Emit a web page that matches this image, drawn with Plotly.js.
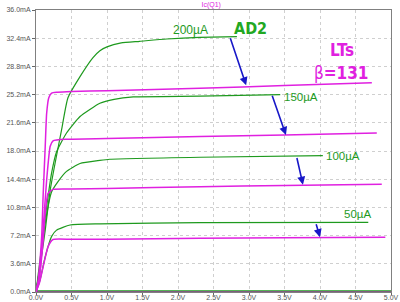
<!DOCTYPE html>
<html><head><meta charset="utf-8">
<script src="https://cdn.plot.ly/plotly-3.0.1.min.js"></script>
<style>html,body{margin:0;padding:0;background:#fff}#c{width:400px;height:302px}</style>
</head><body><div id="c"></div>
<script>
// Measured (AD2) curves: Vce (V) vs Ic (mA)
const ad2_200_v = [0, 0.056, 0.13, 0.2, 0.27, 0.36, 0.45, 0.62, 0.8, 0.9, 1.0, 1.2, 1.46, 1.84, 2.3, 2.83];
const ad2_200_i = [0, 3.2, 7.9, 13.0, 16.5, 20.7, 24.8, 27.5, 29.9, 30.8, 31.3, 31.8, 32.0, 32.3, 32.5, 32.6];
const ad2_150_v = [0, 0.08, 0.15, 0.22, 0.29, 0.43, 0.62, 0.9, 1.1, 1.37, 2.31, 3.44];
const ad2_150_i = [0, 5.8, 10.9, 15.2, 17.9, 20.3, 22.4, 24.1, 24.6, 24.9, 25.0, 25.2];
const ad2_100_v = [0, 0.056, 0.13, 0.22, 0.31, 0.43, 0.62, 0.9, 1.04, 2.31, 4.04];
const ad2_100_i = [0, 3.2, 8.8, 12.8, 14.1, 15.4, 16.4, 16.8, 16.95, 17.2, 17.4];
const ad2_50_v = [0, 0.056, 0.13, 0.22, 0.29, 0.48, 0.9, 2.31, 4.68];
const ad2_50_i = [0, 1.5, 4.5, 7.1, 7.9, 8.55, 8.7, 8.85, 8.9];
const ad2_0_v = [0, 5];
const ad2_0_i = [0.15, 0.15];
// Simulated (LTspice) curves
const lts_200_v = [0, 0.03, 0.08, 0.1, 0.13, 0.15, 0.18, 0.22, 0.3, 0.5, 1.0, 2.31, 3.5, 4.73];
const lts_200_i = [0, 1.5, 7.1, 12.2, 18.6, 22.8, 24.8, 25.4, 25.5, 25.6, 25.7, 26.0, 26.35, 26.7];
const lts_150_v = [0, 0.05, 0.1, 0.15, 0.2, 0.24, 0.43, 1.0, 2.31, 3.5, 4.8];
const lts_150_i = [0, 2, 8, 14.3, 18.6, 19.3, 19.5, 19.6, 19.85, 20.05, 20.3];
const lts_100_v = [0, 0.05, 0.1, 0.13, 0.17, 0.24, 0.5, 1, 2.31, 3.5, 4.87];
const lts_100_i = [0, 2, 6.5, 10.1, 12.6, 13.1, 13.15, 13.2, 13.45, 13.6, 13.75];
const lts_50_v = [0, 0.05, 0.1, 0.17, 0.24, 0.5, 1, 2.31, 3.5, 4.92];
const lts_50_i = [0, 1.2, 3.2, 5.8, 6.7, 6.72, 6.75, 6.85, 6.92, 7.0];
const lts_0_v = [0, 5];
const lts_0_i = [0.02, 0.02];
// Tick labels
const xTickVals = [0, 0.5, 1, 1.5, 2, 2.5, 3, 3.5, 4, 4.5, 5];
const xTickText = ["0.0V","0.5V","1.0V","1.5V","2.0V","2.5V","3.0V","3.5V","4.0V","4.5V","5.0V"];
const yTickVals = [0, 3.6, 7.2, 10.8, 14.4, 18, 21.6, 25.2, 28.8, 32.4, 36];
const yTickText = ["0.0mA","3.6mA","7.2mA","10.8mA","14.4mA","18.0mA","21.6mA","25.2mA","28.8mA","32.4mA","36.0mA"];
// Base current labels
const ibLabels = ["200\u00b5A", "150\u00b5A", "100\u00b5A", "50\u00b5A"];
const ibLabelX = [2.18, 3.73, 4.33, 4.53];
const ibLabelY = [33.5, 24.9, 17.4, 10.0];
// Arrows (from AD2 curve end to LTspice curve)
const arrTailX = [2.73, 3.32, 3.67, 3.94];
const arrTailY = [32.6, 25.25, 17.3, 8.85];
const arrHeadX = [2.96, 3.52, 3.76, 4.0];
const arrHeadY = [26.4, 20.05, 13.7, 7.0];

const GREEN = '#1e9a1e';
const MAG = '#e020e0';
const BLUE = '#1818c8';
const NARROW = 'DejaVu Sans Condensed, Liberation Sans Narrow, Liberation Sans, sans-serif';

function tr(x, y, color, w) {
  return {x: x, y: y, type: 'scatter', mode: 'lines', line: {color: color, width: w, shape: 'spline', smoothing: 0.5}, hoverinfo: 'skip'};
}
const data = [
  tr(lts_0_v, lts_0_i, MAG, 1.5),
  tr(ad2_0_v, ad2_0_i, GREEN, 1.2),
  tr(ad2_200_v, ad2_200_i, GREEN, 1.2),
  tr(ad2_150_v, ad2_150_i, GREEN, 1.2),
  tr(ad2_100_v, ad2_100_i, GREEN, 1.2),
  tr(ad2_50_v, ad2_50_i, GREEN, 1.2),
  tr(lts_200_v, lts_200_i, MAG, 1.5),
  tr(lts_150_v, lts_150_i, MAG, 1.5),
  tr(lts_100_v, lts_100_i, MAG, 1.5),
  tr(lts_50_v, lts_50_i, MAG, 1.5)
];

const ann = [];
for (let k = 0; k < ibLabels.length; k++) {
  ann.push({x: ibLabelX[k], y: ibLabelY[k], xref: 'x', yref: 'y', text: ibLabels[k], showarrow: false,
    font: {family: 'Liberation Sans, Arial, sans-serif', size: k === 0 ? 12 : 11.5, color: GREEN}});
}
for (let k = 0; k < arrTailX.length; k++) {
  ann.push({x: arrHeadX[k], y: arrHeadY[k], ax: arrTailX[k], ay: arrTailY[k], xref: 'x', yref: 'y', axref: 'x', ayref: 'y',
    text: '', showarrow: true, arrowhead: 2, arrowsize: 1, arrowwidth: 1.6, arrowcolor: BLUE, standoff: 0, startstandoff: 0});
}
ann.push({x: 3.02, y: 33.6, xref: 'x', yref: 'y', text: '<b>AD2</b>', showarrow: false,
  font: {family: NARROW, size: 16, color: '#22a822'}});
ann.push({x: 4.31, y: 30.9, xref: 'x', yref: 'y', text: '<b>LTs</b>', showarrow: false,
  font: {family: NARROW, size: 17, color: MAG}});
ann.push({x: 4.30, y: 27.9, xref: 'x', yref: 'y', text: '\u03b2<b>=131</b>', showarrow: false,
  font: {family: NARROW, size: 17, color: MAG}});

const layout = {
  width: 400, height: 302,
  margin: {l: 36, r: 9, t: 10, b: 10, pad: 0},
  paper_bgcolor: '#ffffff', plot_bgcolor: '#ffffff',
  showlegend: false,
  title: {text: 'Ic(Q1)', font: {family: 'Liberation Sans, Arial, sans-serif', size: 7, color: MAG},
    x: 0.528, xref: 'container', xanchor: 'center', y: 0.985, yref: 'container', yanchor: 'middle'},
  xaxis: {range: [0, 5], tickvals: xTickVals, ticktext: xTickText, ticks: 'outside', ticklen: 2, tickcolor: '#666',
    ticklabelstandoff: -3,
    tickfont: {family: 'Liberation Sans, Arial, sans-serif', size: 7, color: '#555'},
    showgrid: true, gridcolor: '#cfcfcf', griddash: 'dot', gridwidth: 1,
    showline: true, linecolor: '#808080', linewidth: 1, mirror: true, zeroline: false, fixedrange: true},
  yaxis: {range: [0, 36], tickvals: yTickVals, ticktext: yTickText, ticks: 'outside', ticklen: 3, tickcolor: '#666',
    tickfont: {family: 'Liberation Sans, Arial, sans-serif', size: 7, color: '#555'},
    showgrid: true, gridcolor: '#cfcfcf', griddash: 'dot', gridwidth: 1,
    showline: true, linecolor: '#808080', linewidth: 1, mirror: true, zeroline: false, fixedrange: true},
  annotations: ann
};
Plotly.newPlot('c', data, layout, {staticPlot: true, displayModeBar: false});
</script></body></html>
